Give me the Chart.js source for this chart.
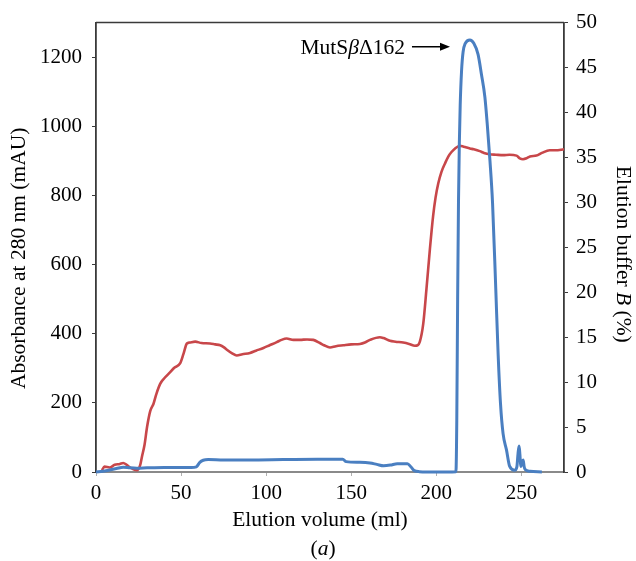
<!DOCTYPE html>
<html>
<head>
<meta charset="utf-8">
<script src="https://cdn.jsdelivr.net/npm/chart.js@4.4.1/dist/chart.umd.min.js"></script>
<style>
  html, body { margin: 0; padding: 0; background: #fff; }
  #wrap { width: 636px; height: 561px; }
</style>
</head>
<body>
<div id="wrap"><canvas id="elutionChart" width="636" height="561"></canvas></div>
<script>
// absorbance at 280 nm (mAU), left axis
const absVolume = [0, 4, 8, 12, 16, 20, 24, 30, 40, 50, 56, 59, 61, 63, 66, 75, 90, 110, 130, 145,
    147, 155, 161, 165, 169, 173, 177, 183, 185, 187, 190, 200, 211.5, 212, 212.5, 213, 213.5, 214, 214.8, 215.7,
    217, 219.7, 222, 224.5, 226.5, 228.5, 230, 231.5, 233, 234.9, 236.3, 237.7, 239.2, 241.2, 243.1, 246, 247.3, 248, 248.6, 249.1,
    249.6, 250.4, 251, 251.6, 252.2, 255, 262];
const absValues = [0, 2, 6, 10, 14, 12, 11, 12, 13, 13, 13, 15, 28, 34, 36, 35, 35, 36, 37, 37,
    30, 28, 26, 22, 18, 20, 24, 24, 15, 4, 1, 0, 1, 150, 500, 780, 950, 1060, 1160, 1215,
    1240, 1250, 1240, 1208, 1150, 1085, 1000, 900, 780, 531, 340, 197, 111, 64, 16, 5, 15, 54, 75, 50,
    16, 30, 35, 15, 7, 2, 0];

// elution buffer B (%), right axis
const bufVolume = [3.5, 5, 8, 11, 14, 16, 18, 20, 22, 24, 26, 27, 28.5, 30, 31.9, 33.8, 35.5, 37.7, 40, 43.6,
    46, 49.5, 51.5, 53.4, 55, 58.3, 62, 67, 70, 73, 75, 76.9, 80, 82.7, 86, 90.5, 94, 98.4, 102, 106.2,
    109, 112, 116, 119.9, 124, 127.7, 131.6, 134, 137.5, 141, 145.3, 150, 155.1, 158, 161, 166.8, 169, 172.7, 176, 180.5,
    184, 187.4, 189, 190.3, 192.3, 194.2, 196.2, 198.1, 199.5, 201.1, 203, 205, 207, 208.9, 211, 213.8, 216, 219.7, 222, 225.5,
    228, 231.4, 235, 239.2, 243, 247.1, 249, 250.9, 253, 255, 258.8, 262, 266.6, 270, 275];
const bufValues = [0.2, 0.6, 0.5, 0.8, 0.9, 1.0, 0.8, 0.5, 0.3, 0.2, 0.8, 1.7, 3.0, 5.0, 6.8, 7.6, 8.7, 9.8, 10.4, 11.1,
    11.6, 12.1, 13.2, 14.3, 14.4, 14.5, 14.35, 14.3, 14.2, 14.1, 13.9, 13.6, 13.2, 12.97, 13.1, 13.25, 13.5, 13.8, 14.1, 14.45,
    14.7, 14.85, 14.7, 14.7, 14.75, 14.7, 14.35, 14.1, 13.85, 14.0, 14.1, 14.2, 14.25, 14.4, 14.7, 15.0, 14.9, 14.6, 14.5, 14.4,
    14.25, 14.05, 14.1, 14.5, 16.5, 20.4, 24.8, 28.5, 30.5, 32.1, 33.4, 34.3, 35.1, 35.6, 36.0, 36.3, 36.2, 36.0, 35.9, 35.7,
    35.5, 35.35, 35.3, 35.25, 35.3, 35.2, 34.9, 34.8, 34.9, 35.1, 35.2, 35.5, 35.8, 35.8, 35.9];

const volumeTicks = [0, 50, 100, 150, 200, 250];
const absTicks = [0, 200, 400, 600, 800, 1000, 1200];
const bufTicks = [0, 5, 10, 15, 20, 25, 30, 35, 40, 45, 50];

const serif = '"Liberation Serif", "Times New Roman", serif';
const titleSize = 21.5;

function toPoints(xs, ys) {
    return xs.map((x, i) => ({ x: x, y: ys[i] }));
}

function setTicks(values) {
    return scale => { scale.ticks = values.map(v => ({ value: v })); };
}

// draws a line of text made of normal / italic pieces, centred on (x, y)
function drawRuns(ctx, runs, x, y, align) {
    const fonts = runs.map(r => (r.italic ? 'italic ' : '') + titleSize + 'px ' + serif);
    let total = 0;
    const widths = runs.map((r, i) => { ctx.font = fonts[i]; const w = ctx.measureText(r.text).width; total += w; return w; });
    let cx = align === 'right' ? x - total : x - total / 2;
    ctx.textAlign = 'left';
    runs.forEach((r, i) => {
        ctx.font = fonts[i];
        ctx.fillText(r.text, cx, y);
        cx += widths[i];
    });
}

const extras = {
    id: 'extras',
    afterDraw(chart) {
        const { ctx, chartArea: a, scales } = chart;
        ctx.save();
        // top frame line
        ctx.strokeStyle = '#3a3a3a';
        ctx.lineWidth = 1.5;
        ctx.beginPath();
        ctx.moveTo(a.left, a.top);
        ctx.lineTo(a.right, a.top);
        ctx.stroke();

        ctx.fillStyle = '#000';
        ctx.textBaseline = 'middle';
        const midX = (a.left + a.right) / 2 - 10;
        const midY = (a.top + a.bottom) / 2 + 11;

        drawRuns(ctx, [{ text: 'Elution volume (ml)' }], midX, 520);
        drawRuns(ctx, [{ text: '(' }, { text: 'a', italic: true }, { text: ')' }], midX + 3, 549);

        ctx.save();
        ctx.translate(19.5, midY);
        ctx.rotate(-Math.PI / 2);
        drawRuns(ctx, [{ text: 'Absorbance at 280 nm (mAU)' }], 0, 0);
        ctx.restore();

        ctx.save();
        ctx.translate(623, midY - 4);
        ctx.rotate(Math.PI / 2);
        drawRuns(ctx, [{ text: 'Elution buffer ' }, { text: 'B', italic: true }, { text: ' (%)' }], 0, 0);
        ctx.restore();

        // peak label with arrow
        const tipX = scales.x.getPixelForValue(208);
        const tipY = scales.y.getPixelForValue(1230);
        ctx.textBaseline = 'alphabetic';
        drawRuns(ctx, [{ text: 'MutS' }, { text: 'β', italic: true }, { text: 'Δ162' }], tipX - 45, tipY + 7, 'right');
        ctx.strokeStyle = '#000';
        ctx.lineWidth = 1.6;
        ctx.beginPath();
        ctx.moveTo(tipX - 38, tipY);
        ctx.lineTo(tipX - 6, tipY);
        ctx.stroke();
        ctx.beginPath();
        ctx.moveTo(tipX, tipY);
        ctx.lineTo(tipX - 10, tipY - 4);
        ctx.lineTo(tipX - 10, tipY + 4);
        ctx.closePath();
        ctx.fill();
        ctx.restore();
    }
};

const tickFont = { family: serif, size: 21 };
const plain = v => String(v);

const ctx = document.getElementById('elutionChart').getContext('2d');
const chart = new Chart(ctx, {
    type: 'line',
    data: {
        datasets: [{
            label: 'Absorbance',
            data: toPoints(absVolume, absValues),
            yAxisID: 'y',
            borderColor: '#4a7fc1',
            borderWidth: 3,
            pointRadius: 0,
            cubicInterpolationMode: 'monotone',
            clip: false
        }, {
            label: 'Buffer B',
            data: toPoints(bufVolume, bufValues),
            yAxisID: 'y1',
            borderColor: '#c8474a',
            borderWidth: 2.6,
            pointRadius: 0,
            cubicInterpolationMode: 'monotone',
            clip: false
        }]
    },
    options: {
        responsive: false,
        animation: false,
        devicePixelRatio: 1,
        layout: { padding: { top: 17, left: 0, right: 0, bottom: 0 } },
        plugins: {
            legend: { display: false },
            tooltip: { enabled: false }
        },
        scales: {
            x: {
                type: 'linear',
                min: 0,
                max: 275,
                afterBuildTicks: setTicks(volumeTicks),
                afterFit: scale => { scale.height = 89; },
                ticks: { color: '#000', font: tickFont, padding: 5, maxRotation: 0, callback: plain },
                grid: { drawOnChartArea: false, drawTicks: true, tickLength: 4, tickColor: '#b0b0b0' },
                border: { color: '#8a8a8a', width: 2 }
            },
            y: {
                position: 'left',
                min: 0,
                max: 1300,
                afterBuildTicks: setTicks(absTicks),
                afterFit: scale => { scale.width = 96; },
                ticks: { color: '#000', font: tickFont, padding: 10, callback: plain },
                grid: { drawOnChartArea: false, drawTicks: true, tickLength: 4, tickColor: '#3a3a3a' },
                border: { color: '#3a3a3a', width: 1.8 }
            },
            y1: {
                position: 'right',
                min: 0,
                max: 50,
                afterBuildTicks: setTicks(bufTicks),
                afterFit: scale => { scale.width = 72; },
                ticks: { color: '#000', font: tickFont, padding: 8, callback: plain },
                grid: { drawOnChartArea: false, drawTicks: true, tickLength: 4, tickColor: '#3a3a3a' },
                border: { color: '#3a3a3a', width: 1.8 }
            }
        }
    },
    plugins: [extras]
});
</script>
</body>
</html>
